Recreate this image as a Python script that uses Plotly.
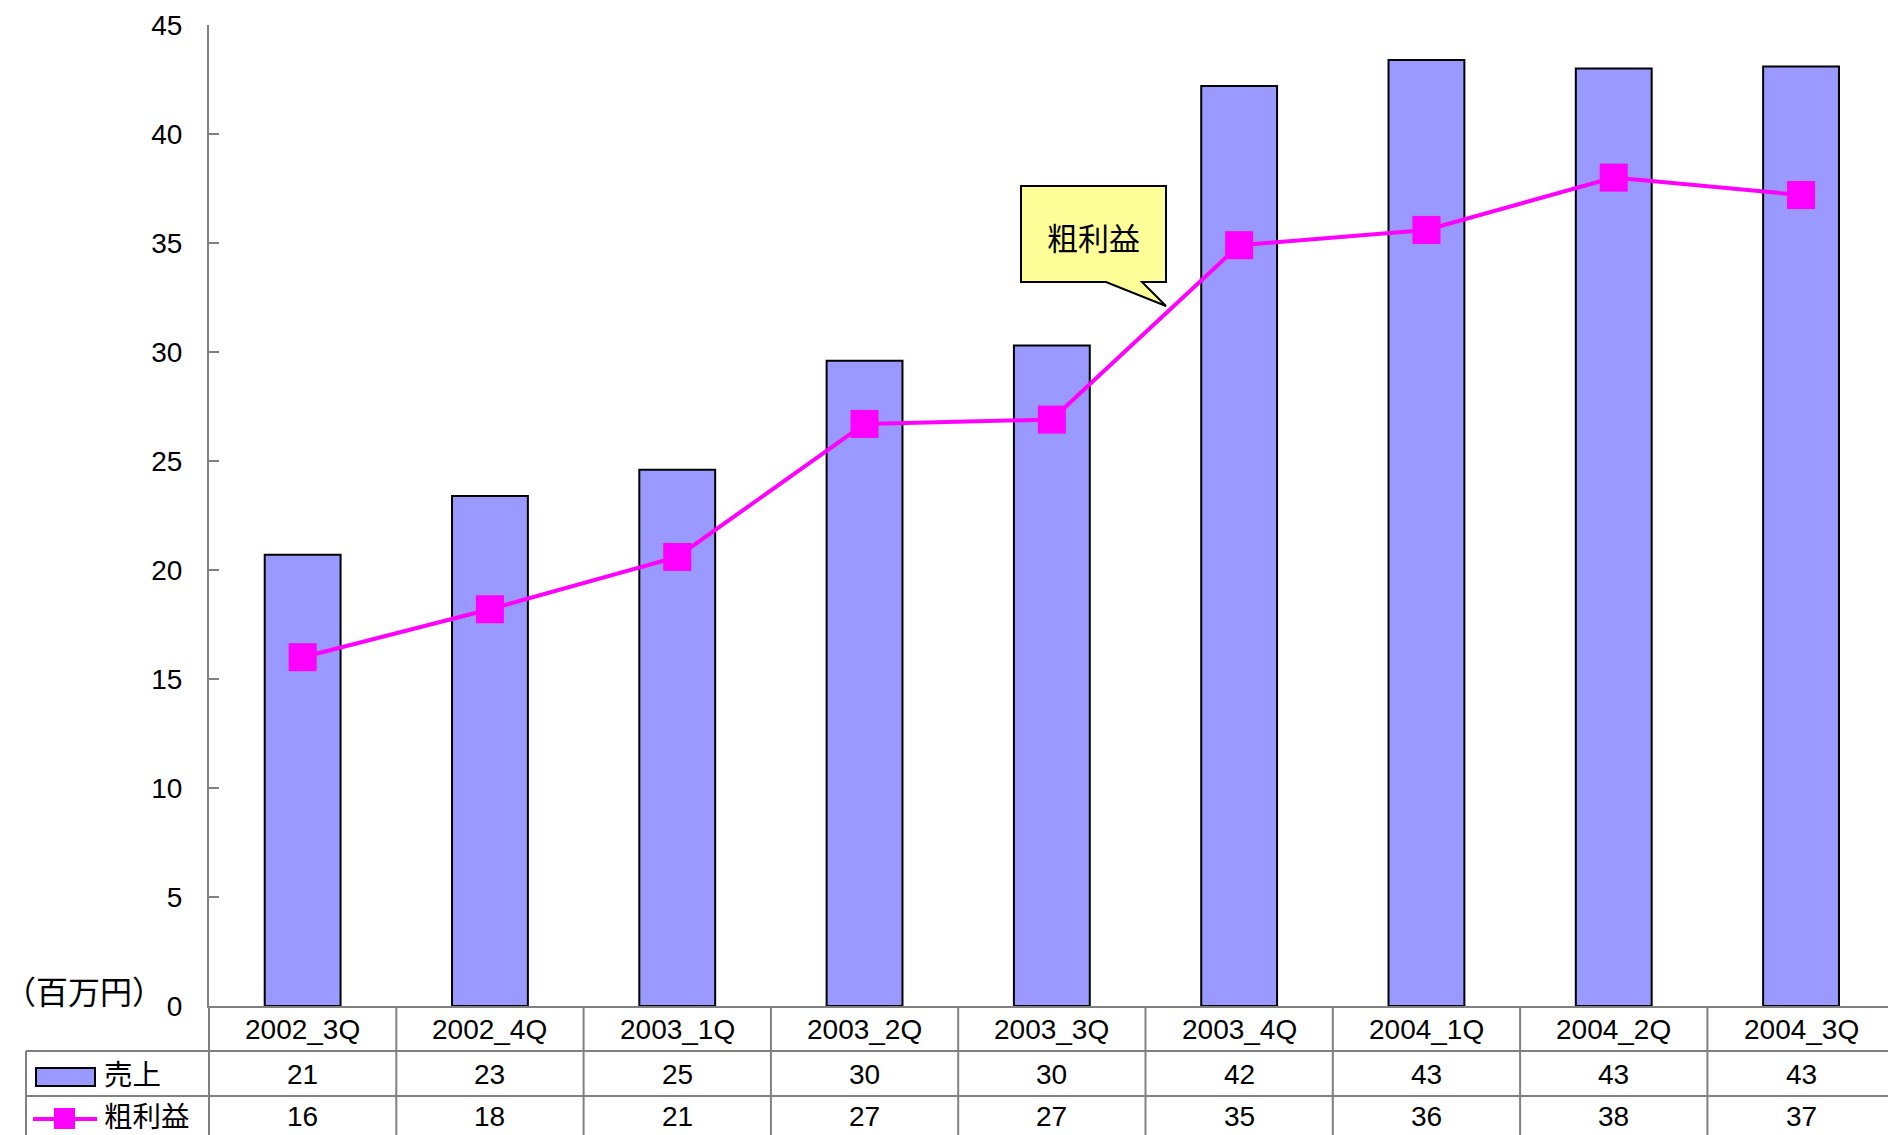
import plotly.graph_objects as go

# Quarterly sales and gross profit (millions of yen)
quarters = ["2002_3Q", "2002_4Q", "2003_1Q", "2003_2Q", "2003_3Q",
            "2003_4Q", "2004_1Q", "2004_2Q", "2004_3Q"]
sales = [20.7, 23.4, 24.6, 29.6, 30.3, 42.2, 43.4, 43.0, 43.1]
gross_profit = [16.0, 18.2, 20.6, 26.7, 26.9, 34.9, 35.6, 38.0, 37.2]

sales_name = "売上"
profit_name = "粗利益"
unit_label = "（百万円）"
y_ticks = [0, 5, 10, 15, 20, 25, 30, 35, 40, 45]

W, H = 1888, 1135
L, R, T, B = 209, 1888, 25, 1006          # plot area in pixels
CAT_PX = 187.3                            # width of one category slot

BAR_COLOR = "#9999FF"
LINE_COLOR = "#FF00FF"
GRID_GRAY = "#808080"
NUM_FONT = "Liberation Sans, Arial, sans-serif"
JP_FONT = "Noto Sans CJK JP, Noto Sans, sans-serif"


def px(x):
    return (x - L) / (R - L)


def py(y):
    return (B - y) / (B - T)


fig = go.Figure()
fig.add_trace(go.Bar(
    x=quarters, y=sales, name=sales_name, width=0.405,
    marker=dict(color=BAR_COLOR, line=dict(color="black", width=2)),
    showlegend=False,
))
fig.add_trace(go.Scatter(
    x=quarters, y=gross_profit, name=profit_name, mode="lines+markers",
    line=dict(color=LINE_COLOR, width=4),
    marker=dict(symbol="square", size=28, color=LINE_COLOR),
    showlegend=False,
))

shapes = []
annotations = []

# Data table under the plot: grid lines
table_left = px(26)
row_lines = [1051, 1096]
for y in row_lines:
    shapes.append(dict(type="line", xref="paper", yref="paper",
                       x0=table_left, x1=1, y0=py(y), y1=py(y),
                       line=dict(color=GRID_GRAY, width=2)))
shapes.append(dict(type="line", xref="paper", yref="paper",
                   x0=table_left, x1=table_left, y0=py(1051), y1=py(H + 10),
                   line=dict(color=GRID_GRAY, width=2)))
shapes.append(dict(type="line", xref="paper", yref="paper",
                   x0=0, x1=0, y0=0, y1=py(H + 10),
                   line=dict(color=GRID_GRAY, width=2)))
for i in range(len(quarters) - 1):
    shapes.append(dict(type="line", xref="x", yref="paper",
                       x0=i + 0.5, x1=i + 0.5, y0=0, y1=py(H + 10),
                       line=dict(color=GRID_GRAY, width=2)))

# Table text: header row, sales row, gross-profit row
header_y, sales_y, profit_y = py(1029), py(1074), py(1116)
for q, s, g in zip(quarters, sales, gross_profit):
    annotations.append(dict(x=q, y=header_y, xref="x", yref="paper", text=q,
                            showarrow=False, yanchor="middle",
                            font=dict(family=NUM_FONT, size=28, color="black")))
    annotations.append(dict(x=q, y=sales_y, xref="x", yref="paper", text=str(round(s)),
                            showarrow=False, yanchor="middle",
                            font=dict(family=NUM_FONT, size=28, color="black")))
    annotations.append(dict(x=q, y=profit_y, xref="x", yref="paper", text=str(round(g)),
                            showarrow=False, yanchor="middle",
                            font=dict(family=NUM_FONT, size=28, color="black")))

# Legend keys inside the table
shapes.append(dict(type="rect", xref="paper", yref="paper",
                   x0=px(36), x1=px(95), y0=py(1068), y1=py(1086),
                   fillcolor=BAR_COLOR, line=dict(color="black", width=2)))
shapes.append(dict(type="line", xref="paper", yref="paper",
                   x0=px(33), x1=px(97), y0=py(1119), y1=py(1119),
                   line=dict(color=LINE_COLOR, width=4)))
shapes.append(dict(type="rect", xref="paper", yref="paper",
                   x0=px(54), x1=px(75), y0=py(1108), y1=py(1129),
                   fillcolor=LINE_COLOR, line=dict(width=0)))
annotations.append(dict(x=px(102), y=py(1072), xref="paper", yref="paper",
                        text=sales_name, showarrow=False, xanchor="left", yanchor="middle",
                        font=dict(family=JP_FONT, size=28.5, color="black")))
annotations.append(dict(x=px(102), y=py(1114), xref="paper", yref="paper",
                        text=profit_name, showarrow=False, xanchor="left", yanchor="middle",
                        font=dict(family=JP_FONT, size=28.5, color="black")))

# Unit label beside the zero tick
annotations.append(dict(x=px(84), y=py(990), xref="paper", yref="paper",
                        text=unit_label, showarrow=False, xanchor="center", yanchor="middle",
                        font=dict(family=JP_FONT, size=32, color="black")))

# Callout pointing at the gross-profit line
bx0, bx1, by0, by1 = 1021, 1166, 186, 282
tail = [(1106, 282), (1166, 306), (1142, 282)]
pts = [(bx0, by0), (bx1, by0), (bx1, by1), tail[2], tail[1], tail[0], (bx0, by1)]
path = "M " + " L ".join(f"{px(x):.5f},{py(y):.5f}" for x, y in pts) + " Z"
shapes.append(dict(type="path", xref="paper", yref="paper", path=path,
                   fillcolor="#FFFF99", line=dict(color="black", width=2)))
annotations.append(dict(x=px((bx0 + bx1) / 2), y=py((by0 + by1) / 2 + 2),
                        xref="paper", yref="paper", text=profit_name, showarrow=False,
                        xanchor="center", yanchor="middle",
                        font=dict(family=JP_FONT, size=31, color="black")))

fig.update_layout(
    width=W, height=H,
    margin=dict(l=L, r=W - R, t=T, b=H - B, pad=0),
    paper_bgcolor="white", plot_bgcolor="white",
    shapes=shapes, annotations=annotations,
    bargap=0.6,
    xaxis=dict(
        type="category", range=[-0.5, -0.5 + (R - L) / CAT_PX],
        showline=True, linecolor=GRID_GRAY, linewidth=2,
        showticklabels=False, ticks="", showgrid=False, zeroline=False,
    ),
    yaxis=dict(
        range=[0, 45], tickvals=y_ticks,
        showline=True, linecolor=GRID_GRAY, linewidth=2,
        ticks="inside", ticklen=10, tickwidth=2, tickcolor=GRID_GRAY,
        ticklabelstandoff=19,
        showgrid=False, zeroline=False,
        tickfont=dict(family=NUM_FONT, size=28, color="black"),
    ),
)

fig.write_html("out.html")
